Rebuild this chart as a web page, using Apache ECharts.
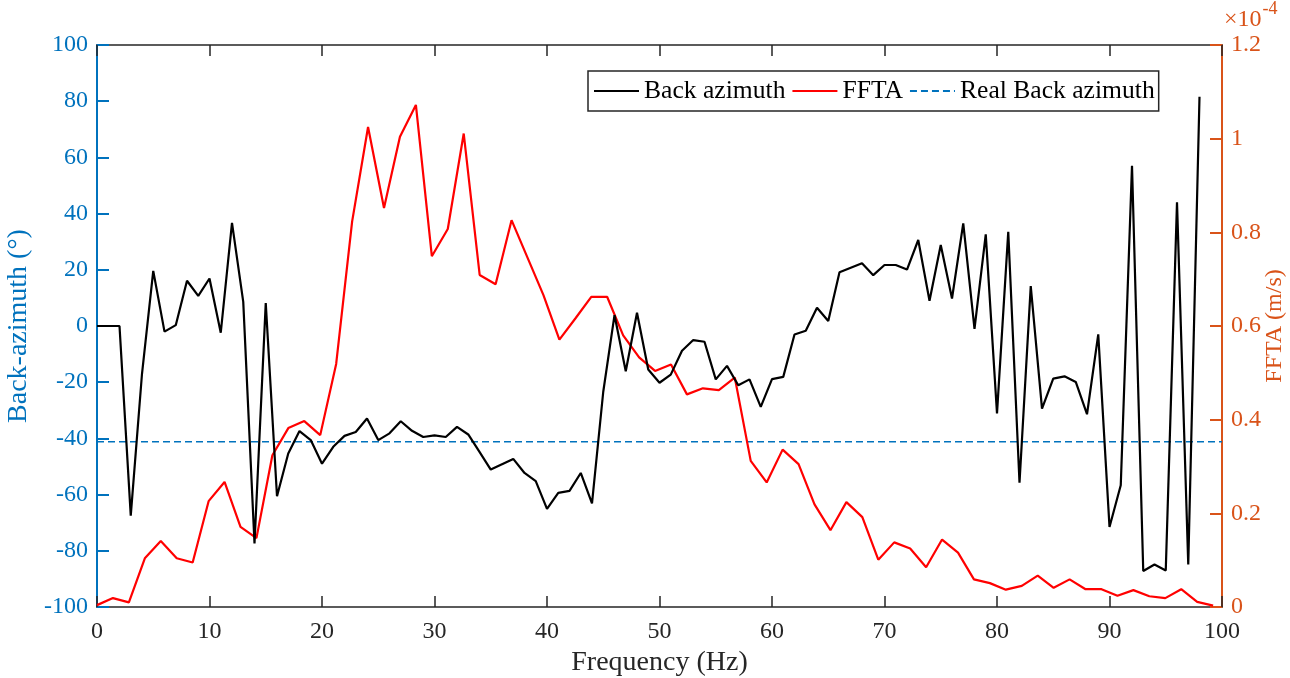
<!DOCTYPE html>
<html>
<head>
<meta charset="utf-8">
<script src="https://cdn.jsdelivr.net/npm/echarts@6/dist/echarts.min.js"></script>
<style>html,body{margin:0;padding:0;background:#fff}#c{width:1290px;height:678px}</style>
</head>
<body>
<div id="c"></div>
<script>
// Back azimuth (deg), one value per Hz starting at 0 Hz
const backAzFreqStart = 0;
const backAzFreqStep = 1;
const backAzimuth = [0,0,0,-67.5,-17,19.6,-2,0.3,16.1,10.7,16.9,-2.4,36.7,8.6,-77.4,8.2,-60.6,-45.4,-37.4,-40.6,
  -49,-43,-39.1,-37.7,-32.9,-40.6,-38.2,-33.9,-37.3,-39.5,-38.9,-39.5,-35.9,-38.6,-44.8,-51.1,-49.2,-47.3,-52.3,-55.2,
  -65.1,-59.4,-58.7,-52.3,-63.1,-23.4,3.9,-16.1,4.7,-15.5,-20.2,-17.3,-8.8,-5.0,-5.6,-19.0,-14.2,-21.1,-19.0,-28.8,
  -18.9,-18.1,-3.0,-1.7,6.5,1.8,19.1,20.7,22.3,18.1,21.7,21.7,20.1,30.6,9.0,28.8,9.8,36.5,-1,32.6,
  -31.1,33.5,-55.8,14.2,-29.4,-18.7,-17.9,-19.9,-31.4,-3.0,-71.5,-56.7,57.0,-87.2,-84.9,-87.0,44.0,-84.9,81.6];
// FFTA (x1e-4 m/s), sampled every ~1.417 Hz starting at 0 Hz
const fftaFreqStep = 1.4173;
const ffta = [0.004,0.019,0.010,0.104,0.141,0.104,0.095,0.226,0.267,0.171,0.147,0.324,0.382,0.397,0.367,0.519,
  0.823,1.025,0.852,1.004,1.072,0.749,0.807,1.011,0.709,0.689,0.826,0.746,0.666,0.571,0.616,0.662,0.662,0.580,
  0.533,0.504,0.518,0.454,0.467,0.463,0.490,0.312,0.266,0.336,0.305,0.219,0.164,0.224,0.192,0.101,0.138,0.125,
  0.085,0.144,0.116,0.059,0.051,0.037,0.045,0.067,0.041,0.059,0.038,0.038,0.024,0.036,0.023,0.019,0.038,0.011,0.003];
const realBackAzimuth = -41.2;
const xTicks = [0,10,20,30,40,50,60,70,80,90,100];
const seriesNames = ['Back azimuth','FFTA','Real Back azimuth'];

const FONT = '"Liberation Serif", "Times New Roman", serif';
const BLUE = '#0072BD', ORANGE = '#D95319', DARK = '#262626';

const baData = backAzimuth.map((v,i)=>[backAzFreqStart + i*backAzFreqStep, v]);
const ffData = ffta.map((v,i)=>[i*fftaFreqStep, v]);
const realData = [[xTicks[0], realBackAzimuth],[xTicks[xTicks.length-1], realBackAzimuth]];

const chart = echarts.init(document.getElementById('c'));
chart.setOption({
  animation:false,
  backgroundColor:'#fff',
  textStyle:{fontFamily:FONT},
  grid:{left:97,right:68,top:45,bottom:71,containLabel:false,outerBoundsMode:'none'},
  legend:{
    left:588, top:71, orient:'horizontal',
    padding:[7,4,7,5], itemGap:6, itemWidth:45, itemHeight:14,
    borderColor:DARK, borderWidth:1.5, backgroundColor:'#fff',
    itemStyle:{opacity:0},
    textStyle:{fontFamily:FONT,fontSize:25.6,color:'#000'},
    data:seriesNames
  },
  xAxis:[{
    type:'value', min:0, max:100, interval:10, position:'bottom',
    axisLine:{show:true,onZero:false,lineStyle:{color:DARK,width:1.5}},
    axisTick:{show:true,inside:true,length:11,lineStyle:{color:DARK,width:1.5}},
    axisLabel:{color:DARK,fontSize:24,fontFamily:FONT,margin:13},
    splitLine:{show:false},
    name:'Frequency (Hz)', nameLocation:'middle', nameGap:41,
    nameTextStyle:{color:DARK,fontSize:28,fontFamily:FONT}
  },{
    type:'value', min:0, max:100, interval:10, position:'top',
    axisLine:{show:true,onZero:false,lineStyle:{color:DARK,width:1.5}},
    axisTick:{show:true,inside:true,length:11,lineStyle:{color:DARK,width:1.5}},
    axisLabel:{show:false}, splitLine:{show:false}
  }],
  yAxis:[{
    type:'value', min:-100, max:100, interval:20, position:'left',
    axisLine:{show:true,onZero:false,lineStyle:{color:BLUE,width:2}},
    axisTick:{show:true,inside:true,length:12,lineStyle:{color:BLUE,width:2}},
    axisLabel:{color:BLUE,fontSize:24,fontFamily:FONT,margin:9},
    splitLine:{show:false},
    name:'Back-azimuth (°)', nameLocation:'middle', nameGap:58, nameRotate:90,
    nameTextStyle:{color:BLUE,fontSize:28,fontFamily:FONT}
  },{
    type:'value', min:0, max:1.2, interval:0.2, position:'right',
    axisLine:{show:true,onZero:false,lineStyle:{color:ORANGE,width:2}},
    axisTick:{show:true,inside:true,length:12,lineStyle:{color:ORANGE,width:2}},
    axisLabel:{color:ORANGE,fontSize:24,fontFamily:FONT,margin:9,
      formatter:v=>String(Math.round(v*10)/10)},
    splitLine:{show:false},
    name:'FFTA (m/s)', nameLocation:'middle', nameGap:41, nameRotate:90, nameMoveOverlap:false,
    nameTextStyle:{color:ORANGE,fontSize:24,fontFamily:FONT}
  }],
  graphic:[{
    type:'text', left:1224, top:0,
    style:{
      text:'{a|×10}{b|-4}',
      rich:{
        a:{fontFamily:FONT,fontSize:24,fill:ORANGE,padding:[8,0,0,0]},
        b:{fontFamily:FONT,fontSize:18,fill:ORANGE,padding:[0,0,6,1],verticalAlign:'top'}
      }
    }
  }],
  series:[{
    name:seriesNames[0], type:'line', xAxisIndex:0, yAxisIndex:0,
    data:baData, symbol:'none', lineStyle:{color:'#000',width:2.2}, itemStyle:{color:'#000'}, z:3
  },{
    name:seriesNames[1], type:'line', xAxisIndex:0, yAxisIndex:1,
    data:ffData, symbol:'none', lineStyle:{color:'#FF0000',width:2.2}, itemStyle:{color:'#FF0000'}, z:2
  },{
    name:seriesNames[2], type:'line', xAxisIndex:0, yAxisIndex:0,
    data:realData, symbol:'none', lineStyle:{color:BLUE,width:1.3,type:[7,4]}, itemStyle:{color:BLUE}, z:1
  }]
});
</script>
</body>
</html>
